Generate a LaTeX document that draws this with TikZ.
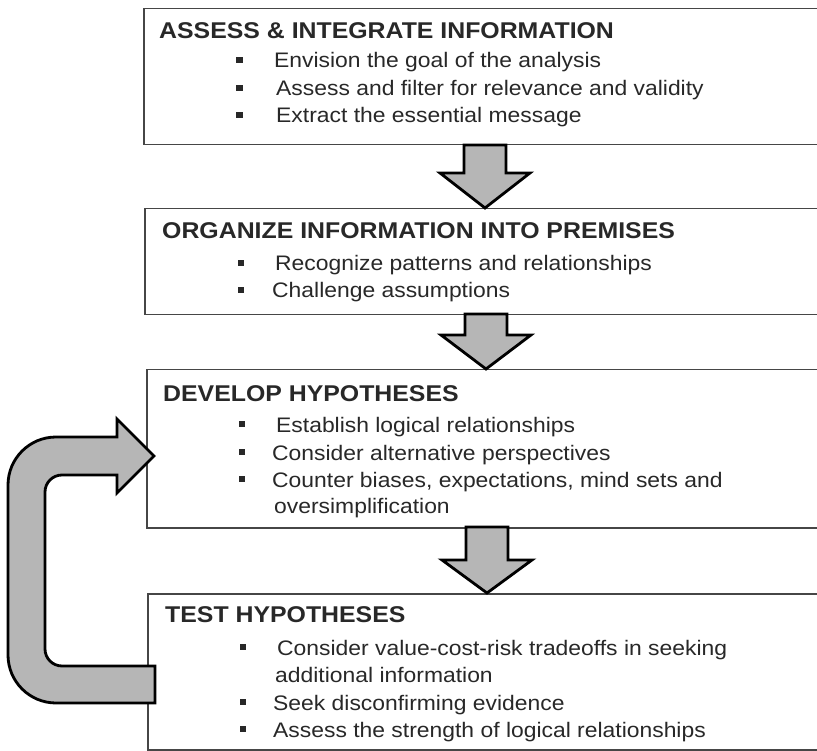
\documentclass[tikz,border=0pt]{standalone}
\usepackage{fontspec}
\setmainfont[FakeStretch=1.09]{Liberation Sans}
\definecolor{ink}{RGB}{40,40,40}
\definecolor{edge}{RGB}{70,70,70}
\definecolor{arrowfill}{RGB}{182,182,182}
\tikzset{
  box/.style={draw=edge, line width=1.5pt, fill=white, anchor=north west, inner sep=0pt},
  head/.style={anchor=base west, inner sep=0pt, font=\fontsize{22.8}{23}\selectfont\bfseries, text=ink},
  item/.style={anchor=base west, inner sep=0pt, font=\fontsize{21}{21}\selectfont, text=ink},
  bul/.style={fill=ink, minimum width=6.5pt, minimum height=6pt, inner sep=0pt},
  bigarrow/.style={draw=black, line width=2.8pt, fill=arrowfill, line join=miter},
}
\begin{document}
\begin{tikzpicture}[x=1pt, y=-1pt]
\useasboundingbox (0,0) rectangle (817,751);
\clip (0,0) rectangle (817,751);
\fill[white] (0,0) rectangle (817,751);

% boxes
\node[box, minimum width=720pt, minimum height=136pt] (box1) at (143,8) {};
\node[box, minimum width=720pt, minimum height=106pt] (box2) at (144,208) {};
\node[box, minimum width=720pt, minimum height=158pt] (box3) at (146,369) {};
\node[box, minimum width=720pt, minimum height=156pt] (box4) at (147,593) {};

% box 1
\node[head] (h1) at (159,39) {ASSESS \& INTEGRATE INFORMATION};
\node[bul] (p11) at (239.5,60) {};
\node[item] (t11) at (274,68) {Envision the goal of the analysis};
\node[bul] (p12) at (239.5,88) {};
\node[item] (t12) at (276,96) {Assess and filter for relevance and validity};
\node[bul] (p13) at (239.5,115) {};
\node[item] (t13) at (276,123) {Extract the essential message};

% box 2
\node[head] (h2) at (162,239) {ORGANIZE INFORMATION INTO PREMISES};
\node[bul] (p21) at (241,263) {};
\node[item] (t21) at (275,271) {Recognize patterns and relationships};
\node[bul] (p22) at (241,290) {};
\node[item] (t22) at (272,298) {Challenge assumptions};

% box 3
\node[head] (h3) at (163,402) {DEVELOP HYPOTHESES};
\node[bul] (p31) at (242,423.5) {};
\node[item] (t31) at (276,432) {Establish logical relationships};
\node[bul] (p32) at (242,451.5) {};
\node[item] (t32) at (272,460) {Consider alternative perspectives};
\node[bul] (p33) at (242,478.5) {};
\node[item] (t33) at (272,487) {Counter biases, expectations, mind sets and};
\node[item] (t34) at (274,513) {oversimplification};

% box 4
\node[head] (h4) at (165,622) {TEST HYPOTHESES};
\node[bul] (p41) at (243,646.5) {};
\node[item] (t41) at (277,655) {Consider value-cost-risk tradeoffs in seeking};
\node[item] (t42) at (275,682) {additional information};
\node[bul] (p43) at (243,701.5) {};
\node[item] (t43) at (273,710) {Seek disconfirming evidence};
\node[bul] (p44) at (243,728.5) {};
\node[item] (t44) at (273,737) {Assess the strength of logical relationships};

% down arrows
\draw[bigarrow] (464,145) -- (506,145) -- (506,173) -- (530,173) -- (485,208) -- (440,173) -- (464,173) -- cycle;
\draw[bigarrow] (465,314) -- (507,314) -- (507,335) -- (531,335) -- (486,369) -- (441,335) -- (465,335) -- cycle;
\draw[bigarrow] (466,527) -- (508,527) -- (508,560) -- (532,560) -- (487,593) -- (442,560) -- (466,560) -- cycle;

% loop arrow (y axis points down: angles run clockwise on the page)
\draw[bigarrow] (155,666) -- (62,666)
  arc[start angle=90, end angle=180, radius=17] -- (45,492)
  arc[start angle=180, end angle=270, radius=17] -- (117,475)
  -- (117,493) -- (154,456) -- (117,419) -- (117,437) -- (56,437)
  arc[start angle=270, end angle=180, radius=48] -- (8,655)
  arc[start angle=180, end angle=90, radius=48] -- (155,703) -- cycle;
\end{tikzpicture}
\end{document}
